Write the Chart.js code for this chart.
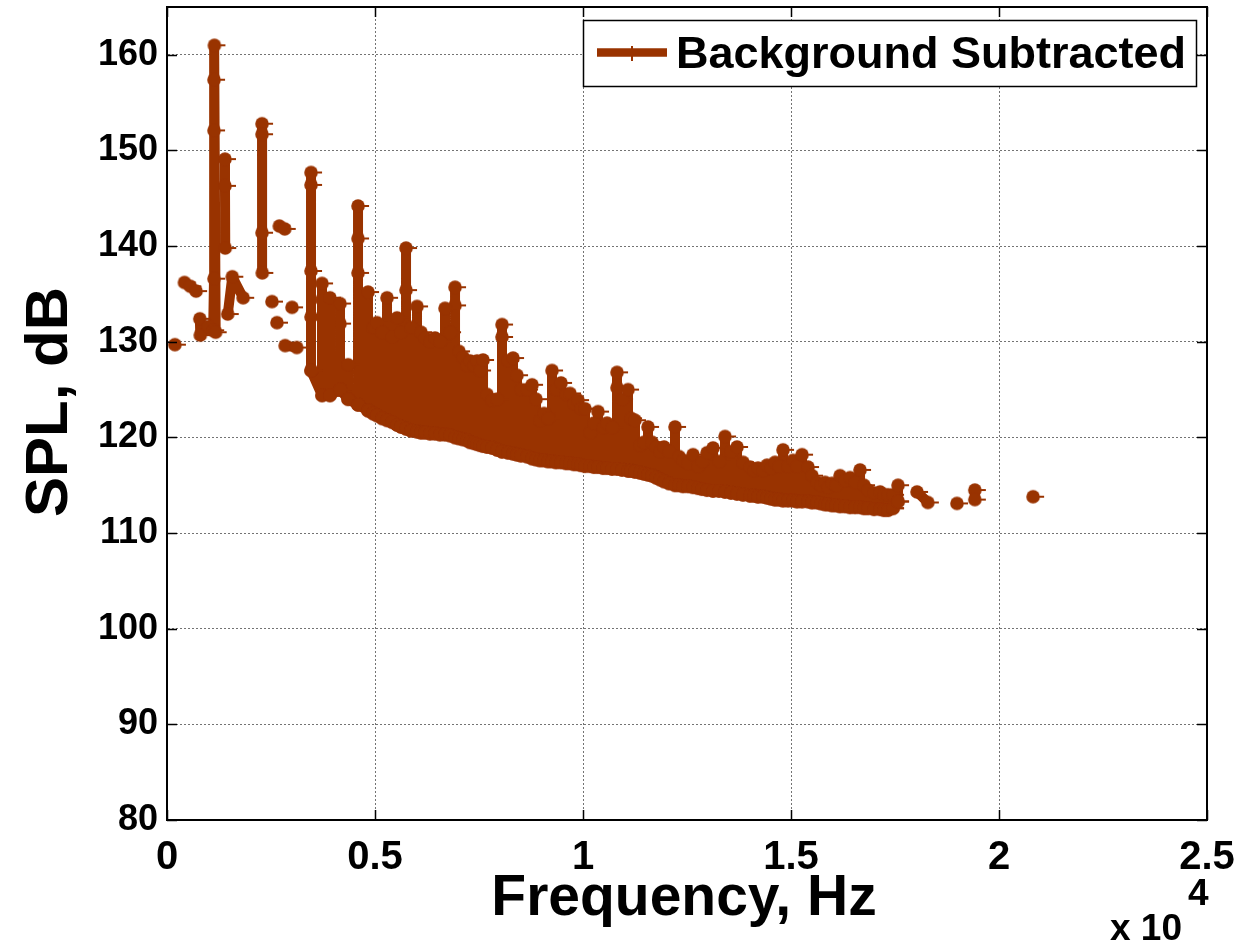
<!DOCTYPE html>
<html>
<head>
<meta charset="utf-8">
<script src="https://cdn.jsdelivr.net/npm/chart.js@4.4.1/dist/chart.umd.min.js"></script>
<style>
  html, body { margin: 0; padding: 0; background: #fff; }
  canvas { display: block; }
</style>
</head>
<body>
<canvas id="c" width="1258" height="943"></canvas>
<script>
// SPL spectrum, background subtracted

const LINE_COLOR = '#993300';
const FONT = '"Liberation Sans", Arial, sans-serif';

const xTickValues = [0, 5000, 10000, 15000, 20000, 25000];
const xTickLabels = ['0', '0.5', '1', '1.5', '2', '2.5'];
const yTickValues = [80, 90, 100, 110, 120, 130, 140, 150, 160];
const yTickLabels = ['80', '90', '100', '110', '120', '130', '140', '150', '160'];

// low-frequency tones and short runs (null = break in the line)
const lowFreq = [190, null, 420, 560, 700, null, 790, 800, 1000, 1110, 1130, 1130, 1130, 1140, 1170, null,
  1394, 1394, 1400, null, 1460, 1570, 1830, null, 2284, 2284, 2284, 2290, null,
  2524, null, 2644, null, 2700, 2830, null, 3005, null, 2840, 3120];
const lowSpl = [129.7, null, 136.2, 135.8, 135.3, null, 132.4, 130.7, 131.6, 131.2, 136.6, 152.1, 157.4, 161.0, 131.0, null,
  149.1, 146.3, 139.8, null, 132.9, 136.8, 134.6, null, 152.8, 151.7, 141.4, 137.2, null,
  134.2, null, 132.0, null, 142.1, 141.8, null, 133.6, null, 129.6, 129.4];

// dense band: per frequency bin, the peak and the floor level
const bandFreq = [
  3462, 3726, 3918, 4159, 4351, 4592, 4832, 4952, 5048, 5169,
  5289, 5409, 5529, 5625, 5746, 5866, 6010, 6106, 6202, 6323,
  6443, 6563, 6683, 6803, 6924, 7020, 7116, 7212, 7284, 7380,
  7452, 7525, 7597, 7693, 7813, 7933, 8053, 8198, 8318, 8414,
  8510, 8654, 8775, 8871, 8967, 9063, 9159, 9255, 9352, 9472,
  9592, 9688, 9784, 9880, 9953, 10049, 10169, 10265, 10361, 10481,
  10578, 10698, 10818, 10938, 11082, 11154, 11250, 11371, 11467, 11563,
  11659, 11756, 11852, 11948, 12068, 12212, 12308, 12405, 12525, 12645,
  12765, 12861, 12982, 13126, 13270, 13414, 13558, 13703, 13847, 14015,
  14112, 14208, 14328, 14424, 14520, 14616, 14712, 14809, 14929, 15049,
  15145, 15265, 15410, 15506, 15626, 15722, 15818, 15890, 15987, 16083,
  16179, 16299, 16419, 16540, 16660, 16756, 16852, 16996, 17141, 17237,
  17333, 17453, 17573];
const bandTop = [
  147.7, 136.1, 134.6, 134.0, 127.6, 144.2, 135.2, 131.5, 132.0, 131.0,
  134.6, 130.5, 132.5, 131.0, 139.8, 131.5, 133.7, 131.0, 130.4, 130.0,
  130.4, 130.0, 133.5, 131.0, 135.7, 129.0, 128.4, 127.5, 128.0, 127.5,
  128.0, 127.0, 128.1, 124.5, 123.9, 124.0, 131.8, 128.0, 128.3, 126.5,
  125.0, 125.0, 125.5, 124.0, 121.8, 122.5, 122.0, 127.0, 125.0, 125.7,
  124.5, 124.6, 123.5, 123.9, 123.0, 123.0, 120.5, 121.5, 122.7, 121.0,
  121.5, 121.0, 126.8, 124.0, 125.0, 122.0, 121.8, 119.2, 119.5, 121.1,
  119.5, 119.0, 118.5, 119.0, 118.5, 121.1, 118.0, 117.6, 117.3, 118.2,
  117.0, 117.5, 118.4, 118.9, 117.5, 120.1, 118.5, 119.0, 117.4, 116.9,
  116.5, 116.8, 116.5, 117.1, 116.8, 117.4, 117.0, 118.7, 117.0, 117.6,
  117.0, 118.2, 116.9, 116.0, 115.3, 115.0, 115.3, 114.8, 115.2, 115.0,
  116.0, 115.5, 115.8, 115.3, 116.6, 115.0, 114.5, 114.2, 114.3, 114.0,
  114.0, 114.0, 115.0];
const bandLow = [
  127.0, 124.4, 124.4, 125.0, 124.0, 123.4, 122.8, 122.5, 122.3, 122.0,
  121.8, 121.6, 121.3, 121.1, 120.9, 120.7, 120.6, 120.5, 120.5, 120.4,
  120.4, 120.3, 120.3, 120.2, 120.0, 119.9, 119.8, 119.7, 119.5, 119.4,
  119.3, 119.2, 119.1, 119.0, 118.9, 118.7, 118.5, 118.4, 118.3, 118.2,
  118.1, 118.0, 117.8, 117.7, 117.6, 117.6, 117.5, 117.5, 117.4, 117.4,
  117.3, 117.3, 117.2, 117.2, 117.1, 117.0, 117.0, 116.9, 116.9, 116.8,
  116.8, 116.7, 116.7, 116.6, 116.5, 116.5, 116.4, 116.3, 116.2, 116.1,
  116.0, 115.8, 115.6, 115.4, 115.2, 115.0, 115.0, 114.9, 114.9, 114.8,
  114.7, 114.6, 114.5, 114.4, 114.4, 114.3, 114.2, 114.1, 114.0, 113.9,
  113.9, 113.8, 113.8, 113.7, 113.6, 113.5, 113.5, 113.4, 113.4, 113.4,
  113.3, 113.3, 113.3, 113.2, 113.2, 113.1, 113.0, 113.0, 112.9, 112.9,
  112.8, 112.8, 112.7, 112.7, 112.7, 112.6, 112.6, 112.5, 112.5, 112.4,
  112.4, 112.6, 113.3];

// intermediate samples visible along the tall peaks
const markFreq = [3462, 3462, 3462, 3726, 4159, 4592, 4592, 5746, 6924, 8053, 10818];
const markSpl = [146.4, 137.4, 132.6, 134.4, 131.9, 140.8, 137.2, 135.4, 133.8, 130.5, 125.2];

// high-frequency stragglers
const tailFreq = [18030, 18290, null, 18990, null, 19420, 19420, null, 20820];
const tailSpl = [114.3, 113.2, null, 113.1, null, 114.5, 113.5, null, 113.8];

function toPoints(fs, ss) {
  return fs.map((f, i) => ({ x: f === null ? 0 : f, y: ss[i] }));
}

const bandPoints = [];
bandFreq.forEach((f, i) => {
  bandPoints.push({ x: f, y: bandLow[i] }, { x: f, y: bandTop[i] }, { x: f, y: bandLow[i] });
});

// filled dot with a small tick on the right, like the exported markers
function makeMarker() {
  const c = document.createElement('canvas');
  c.width = 26; c.height = 16;
  const g = c.getContext('2d');
  g.fillStyle = LINE_COLOR;
  g.beginPath(); g.arc(13, 8, 6.8, 0, Math.PI * 2); g.fill();
  g.fillRect(18, 7, 6, 2);
  return c;
}
const marker = makeMarker();

const common = {
  borderColor: LINE_COLOR,
  backgroundColor: LINE_COLOR,
  borderWidth: 10,
  borderJoinStyle: 'round',
  pointStyle: marker,
  pointRadius: 7,
  spanGaps: false,
  tension: 0,
};

const decor = {
  id: 'decor',
  afterDraw(chart) {
    const { ctx, chartArea: a, scales: { x, y } } = chart;
    ctx.save();
    // box
    ctx.strokeStyle = '#000';
    ctx.lineWidth = 2;
    ctx.strokeRect(a.left, a.top, a.right - a.left, a.bottom - a.top);
    // inward ticks
    ctx.lineWidth = 1.5;
    ctx.beginPath();
    xTickValues.forEach(v => {
      const px = Math.round(x.getPixelForValue(v)) + 0.5;
      ctx.moveTo(px, a.bottom); ctx.lineTo(px, a.bottom - 10);
      ctx.moveTo(px, a.top); ctx.lineTo(px, a.top + 10);
    });
    yTickValues.forEach(v => {
      const py = Math.round(y.getPixelForValue(v)) + 0.5;
      ctx.moveTo(a.left, py); ctx.lineTo(a.left + 10, py);
      ctx.moveTo(a.right, py); ctx.lineTo(a.right - 10, py);
    });
    ctx.stroke();

    // legend
    const lx = 583, ly = 20, lw = 613, lh = 66;
    ctx.fillStyle = '#fff';
    ctx.fillRect(lx, ly, lw, lh);
    ctx.strokeStyle = '#000';
    ctx.lineWidth = 1.5;
    ctx.strokeRect(lx + 0.5, ly + 0.5, lw, lh);
    ctx.strokeStyle = LINE_COLOR;
    ctx.lineWidth = 8.5;
    ctx.beginPath(); ctx.moveTo(597, 52.5); ctx.lineTo(667, 52.5); ctx.stroke();
    ctx.fillStyle = LINE_COLOR;
    ctx.fillRect(631, 46, 2, 15);
    ctx.fillStyle = '#000';
    ctx.font = 'bold 45px ' + FONT;
    ctx.textAlign = 'left';
    ctx.textBaseline = 'alphabetic';
    ctx.fillText('Background Subtracted', 676, 68);

    // axis titles
    ctx.font = 'bold 57px ' + FONT;
    ctx.textAlign = 'center';
    ctx.fillText('Frequency, Hz', 684, 915);
    ctx.font = 'bold 60px ' + FONT;
    ctx.save();
    ctx.translate(67, 402);
    ctx.rotate(-Math.PI / 2);
    ctx.fillText('SPL, dB', 0, 0);
    ctx.restore();

    // exponent
    ctx.textAlign = 'left';
    ctx.font = 'bold 37px ' + FONT;
    ctx.fillText('x 10', 1110, 940);
    ctx.fillText('4', 1188, 905);
    ctx.restore();
  }
};

new Chart(document.getElementById('c').getContext('2d'), {
  type: 'line',
  data: {
    datasets: [
      { ...common, data: toPoints(lowFreq, lowSpl) },
      { ...common, data: bandPoints },
      { ...common, data: toPoints(tailFreq, tailSpl) },
      { ...common, data: toPoints(markFreq, markSpl), showLine: false },
    ],
  },
  options: {
    responsive: false,
    animation: false,
    devicePixelRatio: 1,
    layout: { autoPadding: false, padding: { top: 7, right: 51, left: 0, bottom: 0 } },
    plugins: { legend: { display: false }, tooltip: { enabled: false } },
    scales: {
      x: {
        type: 'linear',
        min: 0,
        max: 25000,
        afterFit: s => { s.height = 123; s.paddingLeft = 0; s.paddingRight = 0; },
        afterBuildTicks: s => { s.ticks = xTickValues.map(v => ({ value: v })); },
        ticks: {
          callback: (v) => xTickLabels[xTickValues.indexOf(v)],
          font: { family: FONT, size: 40, weight: 'bold' },
          color: '#000',
          padding: 14,
          maxRotation: 0,
          autoSkip: false,
        },
        grid: { color: 'rgba(0,0,0,0.55)', lineWidth: 1, drawTicks: false },
        border: { display: true, color: '#000', width: 2, dash: [2, 2] },
      },
      y: {
        type: 'linear',
        min: 80,
        max: 165,
        afterFit: s => { s.width = 167; s.paddingTop = 0; s.paddingBottom = 0; },
        afterBuildTicks: s => { s.ticks = yTickValues.map(v => ({ value: v })); },
        ticks: {
          callback: (v) => yTickLabels[yTickValues.indexOf(v)],
          font: { family: FONT, size: 36, weight: 'bold' },
          color: '#000',
          padding: 9,
          autoSkip: false,
        },
        grid: { color: 'rgba(0,0,0,0.55)', lineWidth: 1, drawTicks: false },
        border: { display: true, color: '#000', width: 2, dash: [2, 2] },
      },
    },
  },
  plugins: [decor],
});
</script>
</body>
</html>
